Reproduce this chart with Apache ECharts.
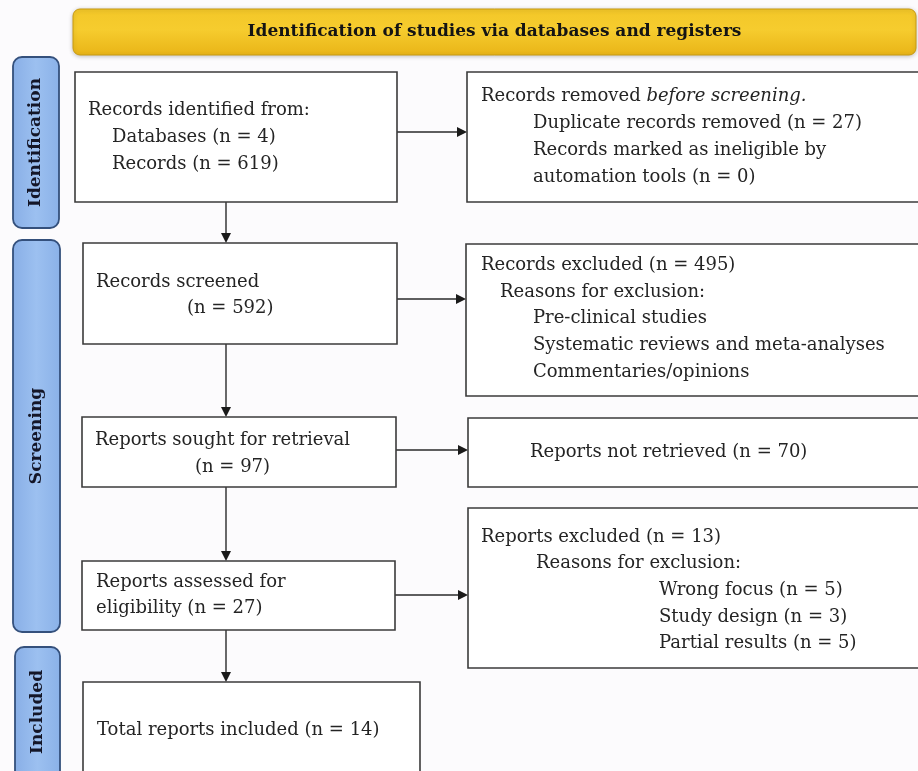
<!DOCTYPE html>
<html>
<head>
<meta charset="utf-8">
<script src="https://cdn.jsdelivr.net/npm/echarts@6/dist/echarts.min.js"></script>
<style>
  html, body { margin: 0; padding: 0; background: #fcfbfd; }
  #chart { width: 918px; height: 771px; }
</style>
</head>
<body>
<div id="chart"></div>
<script>
// PRISMA flow values
const headerTitle = "Identification of studies via databases and registers";
const stages = ["Identification", "Screening", "Included"];
const sourceLabels = ["Databases", "Records"];
const sourceCounts = [4, 619];
const removedCounts = [27, 0];
const flowLabels = ["Records screened", "Reports sought for retrieval", "Reports assessed for", "Total reports included"];
const flowCounts = [592, 97, 27, 14];
const excludedCounts = [495, 70, 13];
const screeningReasons = ["Pre-clinical studies", "Systematic reviews and meta-analyses", "Commentaries/opinions"];
const eligibilityReasons = ["Wrong focus", "Study design", "Partial results"];
const eligibilityCounts = [5, 3, 5];

const FONT = "'DejaVu Serif', serif";
const BODY_SIZE = 18;
const TEXT_COLOR = "#242424";

// layout (pixel space of the hidden axes)
const stageLayout = [
   { x: 13, y: 57, w: 46, h: 171 },
   { x: 13, y: 240, w: 47, h: 392 },
   { x: 15, y: 647, w: 45, h: 140 },
];

const boxLayout = [
   { x: 75, y: 72, w: 322, h: 130, lines: [
      [88, 110, "Records identified from:"],
      [112, 137, `${sourceLabels[0]} (n = ${sourceCounts[0]})`],
      [112, 164, `${sourceLabels[1]} (n = ${sourceCounts[1]})`],
   ] },
   { x: 467, y: 72, w: 460, h: 130, lines: [
      [481, 96, "{n|Records removed }{i|before screening.}"],
      [533, 123, `Duplicate records removed (n = ${removedCounts[0]})`],
      [533, 150, "Records marked as ineligible by"],
      [533, 177, `automation tools (n = ${removedCounts[1]})`],
   ] },
   { x: 83, y: 243, w: 314, h: 101, lines: [
      [96, 282, flowLabels[0]],
      [187, 308, `(n = ${flowCounts[0]})`],
   ] },
   { x: 466, y: 244, w: 460, h: 152, lines: [
      [481, 265, `Records excluded (n = ${excludedCounts[0]})`],
      [500, 292, "Reasons for exclusion:"],
      [533, 318, screeningReasons[0]],
      [533, 345, screeningReasons[1]],
      [533, 372, screeningReasons[2]],
   ] },
   { x: 82, y: 417, w: 314, h: 70, lines: [
      [95, 440, flowLabels[1]],
      [195, 467, `(n = ${flowCounts[1]})`],
   ] },
   { x: 468, y: 418, w: 460, h: 69, lines: [
      [530, 452, `Reports not retrieved (n = ${excludedCounts[1]})`],
   ] },
   { x: 82, y: 561, w: 313, h: 69, lines: [
      [96, 582, flowLabels[2]],
      [96, 608, `eligibility (n = ${flowCounts[2]})`],
   ] },
   { x: 468, y: 508, w: 460, h: 160, lines: [
      [481, 537, `Reports excluded (n = ${excludedCounts[2]})`],
      [536, 563, "Reasons for exclusion:"],
      [659, 590, `${eligibilityReasons[0]} (n = ${eligibilityCounts[0]})`],
      [659, 617, `${eligibilityReasons[1]} (n = ${eligibilityCounts[1]})`],
      [659, 643, `${eligibilityReasons[2]} (n = ${eligibilityCounts[2]})`],
   ] },
   { x: 83, y: 682, w: 337, h: 120, lines: [
      [97, 730, `${flowLabels[3]} (n = ${flowCounts[3]})`],
   ] },
];

const arrowLayout = [
   [226, 202, 226, 243],
   [226, 344, 226, 417],
   [226, 487, 226, 561],
   [226, 630, 226, 682],
   [397, 132, 467, 132],
   [397, 299, 466, 299],
   [396, 450, 468, 450],
   [395, 595, 468, 595],
];

function rectFrom(api, b) {
   const tl = api.coord([b.x, b.y]);
   const br = api.coord([b.x + b.w, b.y + b.h]);
   return { x: tl[0], y: tl[1], width: br[0] - tl[0], height: br[1] - tl[1] };
}

function renderHeader(params, api) {
   const r = rectFrom(api, { x: 73, y: 9, w: 843, h: 46 });
   return {
      type: "group",
      children: [
         {
            type: "rect",
            shape: { ...r, r: 7 },
            style: {
               fill: new echarts.graphic.LinearGradient(0, 0, 0, 1, [
                  { offset: 0, color: "#f3c728" },
                  { offset: 0.45, color: "#f6cc2e" },
                  { offset: 1, color: "#e9b417" },
               ]),
               stroke: "#c89a12",
               lineWidth: 1,
               shadowBlur: 4,
               shadowColor: "rgba(0,0,0,0.22)",
               shadowOffsetY: 1,
            },
         },
         {
            type: "text",
            x: r.x + r.width / 2,
            y: r.y + r.height / 2,
            style: {
               text: headerTitle,
               fontFamily: FONT,
               fontSize: 17,
               fontWeight: "bold",
               fill: "#141414",
               align: "center",
               verticalAlign: "middle",
            },
         },
      ],
   };
}

function renderStage(params, api) {
   const b = stageLayout[params.dataIndex];
   const r = rectFrom(api, b);
   const name = stages[params.dataIndex];
   // the bottom stage runs off the page, so centre its label on the visible part
   const cy = params.dataIndex === 2 ? r.y + 65 : r.y + r.height / 2;
   return {
      type: "group",
      children: [
         {
            type: "rect",
            shape: { ...r, r: 9 },
            style: {
               fill: new echarts.graphic.LinearGradient(0, 0, 1, 0, [
                  { offset: 0, color: "#88aee6" },
                  { offset: 0.5, color: "#9cc0f0" },
                  { offset: 1, color: "#8ab1e8" },
               ]),
               stroke: "#34507c",
               lineWidth: 1.8,
            },
         },
         {
            type: "text",
            x: r.x + r.width / 2,
            y: cy,
            rotation: Math.PI / 2,
            style: {
               text: name,
               fontFamily: FONT,
               fontSize: 17,
               fontWeight: "bold",
               fill: "#141628",
               align: "center",
               verticalAlign: "middle",
            },
         },
      ],
   };
}

function renderBox(params, api) {
   const b = boxLayout[params.dataIndex];
   const children = [
      {
         type: "rect",
         shape: rectFrom(api, b),
         style: { fill: "#ffffff", stroke: "#3b3b3b", lineWidth: 1.6 },
      },
   ];
   b.lines.forEach((l) => {
      const p = api.coord([l[0], l[1]]);
      children.push({
         type: "text",
         x: p[0],
         y: p[1],
         style: {
            text: l[2],
            fontFamily: FONT,
            fontSize: BODY_SIZE,
            fill: TEXT_COLOR,
            align: "left",
            verticalAlign: "middle",
            rich: {
               n: { fontFamily: FONT, fontSize: BODY_SIZE, color: TEXT_COLOR },
               i: { fontFamily: FONT, fontSize: BODY_SIZE, color: TEXT_COLOR, fontStyle: "italic" },
            },
         },
      });
   });
   return { type: "group", children };
}

function renderArrow(params, api) {
   const a = arrowLayout[params.dataIndex];
   const p1 = api.coord([a[0], a[1]]);
   const p2 = api.coord([a[2], a[3]]);
   const dx = p2[0] - p1[0];
   const dy = p2[1] - p1[1];
   const len = Math.sqrt(dx * dx + dy * dy);
   const ux = dx / len, uy = dy / len;
   const head = 10, half = 5;
   const bx = p2[0] - ux * head, by = p2[1] - uy * head;
   return {
      type: "group",
      children: [
         {
            type: "line",
            shape: { x1: p1[0], y1: p1[1], x2: bx, y2: by },
            style: { stroke: "#2a2a2a", lineWidth: 1.4 },
         },
         {
            type: "polygon",
            shape: {
               points: [
                  [p2[0], p2[1]],
                  [bx - uy * half, by + ux * half],
                  [bx + uy * half, by - ux * half],
               ],
            },
            style: { fill: "#1a1a1a" },
         },
      ],
   };
}

chart = echarts.init(document.getElementById("chart"));

chart.setOption({
   backgroundColor: "#fcfbfd",
   animation: false,
   grid: { left: 0, right: 0, top: 0, bottom: 0 },
   xAxis: { type: "value", min: 0, max: 918, show: false },
   yAxis: { type: "value", min: 0, max: 771, inverse: true, show: false },
   series: [
      {
         type: "custom",
         renderItem: renderArrow,
         data: arrowLayout.map((a, i) => [i]),
         silent: true,
      },
      {
         type: "custom",
         renderItem: renderBox,
         data: boxLayout.map((b, i) => [i]),
         silent: true,
      },
      {
         type: "custom",
         renderItem: renderStage,
         data: stages.map((s, i) => [i]),
         silent: true,
      },
      {
         type: "custom",
         renderItem: renderHeader,
         data: [[0]],
         silent: true,
      },
   ],
});
</script>
</body>
</html>
